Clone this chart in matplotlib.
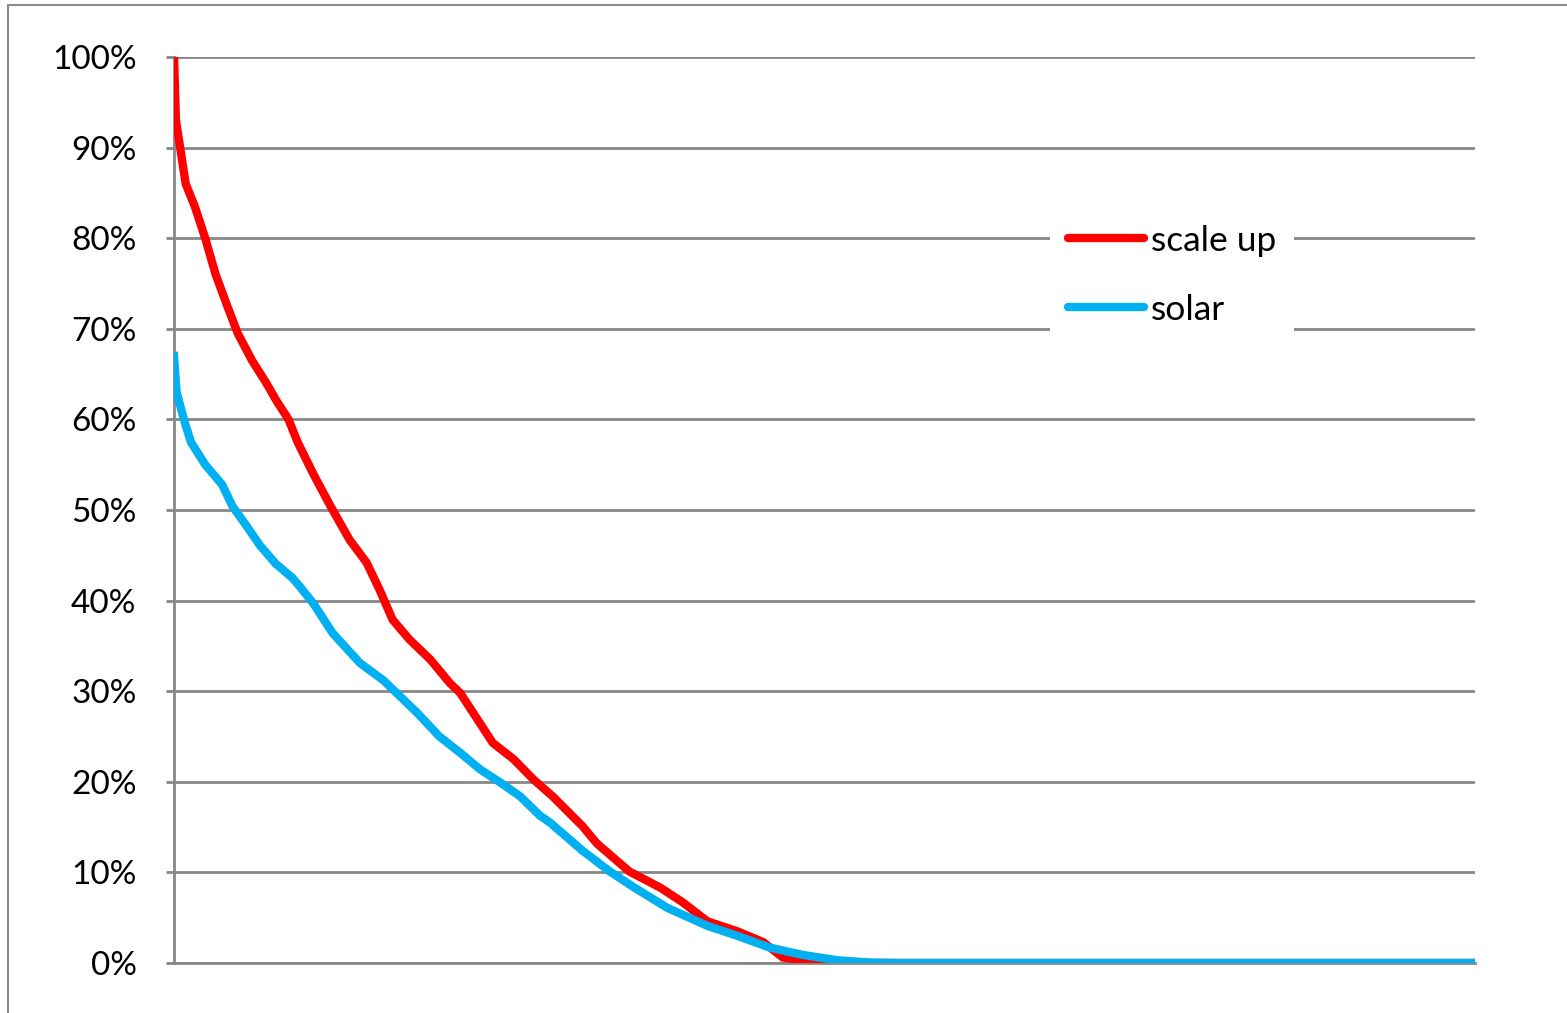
import matplotlib
matplotlib.use("Agg")
import matplotlib.pyplot as plt
from matplotlib.lines import Line2D
from matplotlib.ticker import PercentFormatter

# duration curves (x = share of time in %, y = output in %)
scale_up_x = [0, 0.15, 0.9, 1.6, 2.4, 3.2, 4.1, 4.9, 6.0, 7.1, 7.9, 8.8, 9.5,
              10.7, 12.0, 13.5, 14.8, 15.8, 16.8, 18.1, 19.7, 21.2, 22.0, 23.0,
              24.5, 26.1, 27.6, 29.1, 31.4, 32.5, 35.0, 37.4, 39.1, 41.0, 43.3,
              45.3, 46.8, 49.4, 51.4, 100]
scale_up_y = [100, 93, 86, 83.5, 80, 76, 72.5, 69.5, 66.5, 64, 62, 60, 57.5,
              54, 50.5, 46.7, 44.2, 41.2, 37.9, 35.7, 33.5, 30.9, 29.8, 27.6,
              24.3, 22.5, 20.3, 18.4, 15.1, 13.2, 10.1, 8.3, 6.7, 4.6, 3.5,
              2.3, 0.6, 0.1, 0, 0]

solar_x = [0, 0.2, 0.8, 1.3, 2.4, 3.7, 4.5, 5.5, 6.6, 7.8, 9.1, 9.7, 10.7,
           12.2, 14.3, 16.1, 17.4, 18.7, 20.4, 22.0, 23.5, 25.1, 26.6, 28.1,
           28.9, 31.4, 33.5, 35.3, 37.9, 41.0, 43.3, 45.8, 48.3, 51.0, 53.5,
           55.8, 100]
solar_y = [67, 63, 59.8, 57.5, 55, 52.8, 50.4, 48.4, 46.1, 44.1, 42.5, 41.5,
           39.7, 36.4, 33.1, 31.2, 29.4, 27.6, 25.0, 23.2, 21.4, 19.9, 18.4,
           16.3, 15.5, 12.4, 10.1, 8.4, 6.1, 4.1, 3.0, 1.7, 0.9, 0.3, 0.05,
           0, 0]

y_ticks = list(range(0, 101, 10))

GRAY = "#878787"
plt.rcParams["font.family"] = ["Lato", "DejaVu Sans"]

fig = plt.figure(figsize=(15.67, 10.13), dpi=100)
ax = fig.add_axes([174 / 1567, 1 - 963 / 1013, (1475 - 174) / 1567, (963 - 57) / 1013])

ax.plot(scale_up_x, scale_up_y, color="#ff0000", lw=6, label="scale up", zorder=3)
ax.plot(solar_x, solar_y, color="#00b0f0", lw=6, label="solar", zorder=4)

ax.set_xlim(0, 100)
ax.set_ylim(0, 100)
ax.set_yticks(y_ticks)
ax.yaxis.set_major_formatter(PercentFormatter(decimals=0))
ax.set_xticks([])
ax.grid(axis="y", color=GRAY, lw=2, zorder=1)
ax.set_axisbelow(True)

for side in ("top", "right"):
    ax.spines[side].set_visible(False)
for side in ("left", "bottom"):
    ax.spines[side].set_color(GRAY)
    ax.spines[side].set_linewidth(2)
ax.tick_params(axis="y", length=6, width=2, color=GRAY, pad=21,
               labelsize=24, labelcolor="black")

leg = ax.legend(loc="upper left", bbox_to_anchor=(1050 / 1567, 1 - 207 / 1013),
                bbox_transform=fig.transFigure, fontsize=25.5, frameon=True,
                facecolor="white", edgecolor="none", framealpha=1,
                fancybox=False, borderpad=0.5, handlelength=2.15,
                handletextpad=0.2, labelspacing=1.05, borderaxespad=0)
for h in leg.get_lines():
    h.set_solid_capstyle("round")

# outer chart border (only top and left edges are in frame)
fig.add_artist(Line2D([8 / 1567, 8 / 1567, 1.0], [0, 1 - 5 / 1013, 1 - 5 / 1013],
                      transform=fig.transFigure, color="#8c8c8c", lw=1.5))

fig.savefig("out.png", dpi=100)
